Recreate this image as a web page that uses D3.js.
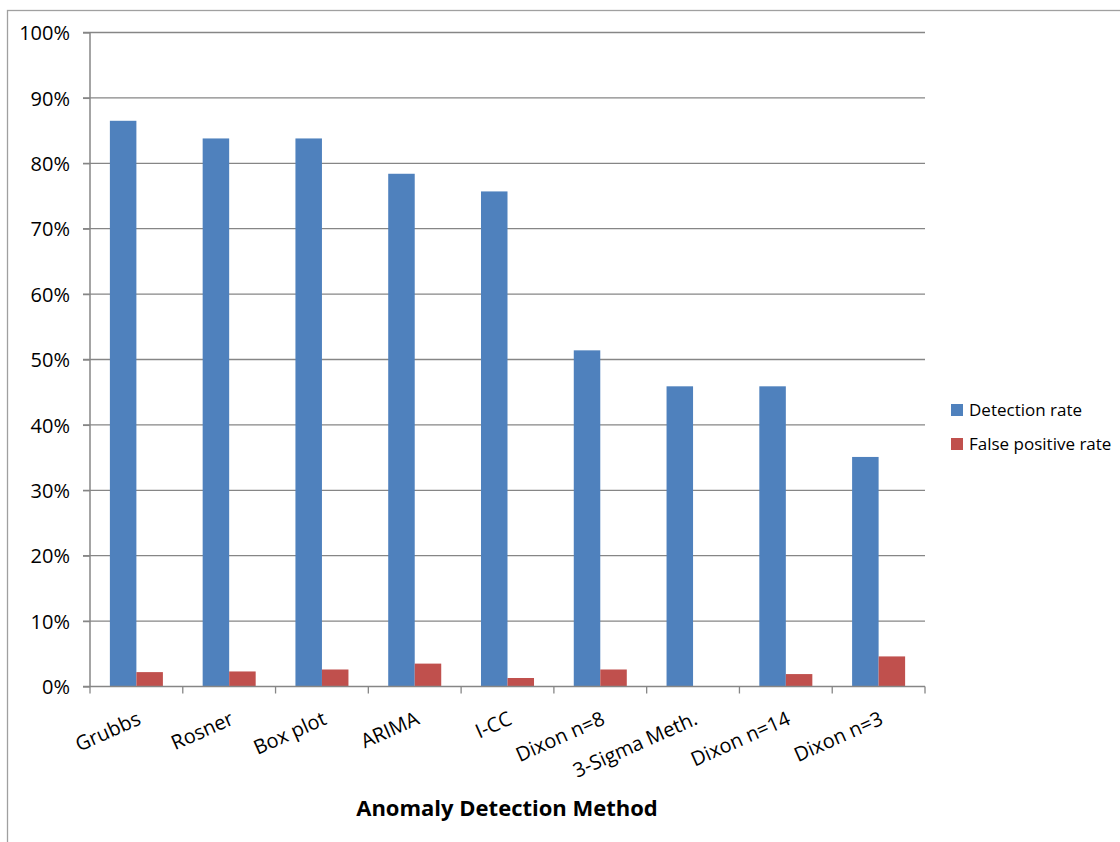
<!DOCTYPE html>
<html><head><meta charset="utf-8">
<script src="https://cdn.jsdelivr.net/npm/d3@7"></script>
<style>body{margin:0;background:#fff;}svg{display:block;font-family:"Open Sans","Liberation Sans",sans-serif;}</style>
</head><body>
<svg id="c" width="1120" height="842"></svg>
<script>
const categories = ["Grubbs","Rosner","Box plot","ARIMA","I-CC","Dixon n=8","3-Sigma Meth.","Dixon n=14","Dixon n=3"];
const seriesNames = ["Detection rate","False positive rate"];
const detectionRate = [0.865,0.838,0.838,0.784,0.757,0.514,0.459,0.459,0.351];
const falsePositiveRate = [0.022,0.023,0.026,0.035,0.013,0.026,0.0,0.019,0.046];
const yTicks = [0,0.1,0.2,0.3,0.4,0.5,0.6,0.7,0.8,0.9,1.0];
const colors = ["#4f81bd","#c0504d"];

(function(){
const svg = d3.select("#c");
const pLeft = 90, pRight = 925, pTop = 32.5, pBottom = 686.5;

// outer chart border
svg.append("rect").attr("x",7.5).attr("y",10.5).attr("width",1130).attr("height",860)
  .attr("fill","none").attr("stroke","#a0a0a0").attr("stroke-width",1.3);

const x = d3.scaleBand().domain(categories).range([pLeft,pRight]).paddingInner(0).paddingOuter(0);
const y = d3.scaleLinear().domain([0,1]).range([pBottom,pTop]);
const bw = x.bandwidth();
const barW = bw/3.5;
const xs = d3.scaleBand().domain(seriesNames).range([0.75*barW, 0.75*barW+2*barW]);

// gridlines
svg.append("g").selectAll("line").data(yTicks.filter(d=>d>0)).join("line")
  .attr("x1",pLeft-7).attr("x2",pRight).attr("y1",d=>y(d)).attr("y2",d=>y(d))
  .attr("stroke","#868686").attr("stroke-width",1.3);

// y axis
const yAxis = d3.axisLeft(y).tickValues(yTicks).tickFormat(d3.format(".0%")).tickSize(7).tickPadding(13);
const gy = svg.append("g").attr("transform",`translate(${pLeft},0)`).call(yAxis)
  .attr("font-family","'Open Sans','Liberation Sans',sans-serif");
gy.select(".domain").attr("stroke","#868686").attr("stroke-width",1.5).attr("d",`M0,${pTop}V${pBottom}`);
gy.selectAll(".tick line").attr("stroke","#868686").attr("stroke-width",1.3);
gy.selectAll(".tick text").attr("font-size",20).attr("fill","#000").attr("dy","0.36em");

// bars
const data = categories.map((c,i)=>({c, v:[detectionRate[i], falsePositiveRate[i]]}));
const g = svg.append("g");
seriesNames.forEach((s,si)=>{
  g.selectAll("rect.s"+si).data(data).join("rect").attr("class","s"+si)
    .attr("x",d=>x(d.c)+xs(s)).attr("width",xs.bandwidth())
    .attr("y",d=>y(d.v[si])).attr("height",d=>y(0)-y(d.v[si]))
    .attr("fill",colors[si]);
});

// x axis
const gx = svg.append("g").attr("transform",`translate(0,${pBottom})`);
gx.append("line").attr("x1",pLeft-7).attr("x2",pRight).attr("y1",0).attr("y2",0).attr("stroke","#868686").attr("stroke-width",1.5);
const bounds = categories.map(c=>x(c)).concat([pRight]);
gx.selectAll("line.t").data(bounds).join("line").attr("class","t")
  .attr("x1",d=>d).attr("x2",d=>d).attr("y1",0).attr("y2",7).attr("stroke","#868686").attr("stroke-width",1.3);
gx.selectAll("text").data(categories).join("text")
  .attr("transform",d=>`translate(${x(d)+bw/2},${24}) rotate(-24)`)
  .attr("text-anchor","end").attr("dy","0.72em").attr("font-size",20).attr("fill","#000").text(d=>d);

// axis title
svg.append("text").attr("x",507).attr("y",816).attr("text-anchor","middle")
  .attr("font-size",22).attr("font-weight","bold").attr("fill","#000").text("Anomaly Detection Method");

// legend
const lg = svg.append("g").attr("transform","translate(951,404)");
seriesNames.forEach((s,i)=>{
  lg.append("rect").attr("x",0).attr("y",i*34).attr("width",12).attr("height",12).attr("fill",colors[i]);
  lg.append("text").attr("x",18).attr("y",i*34+6).attr("dy","0.36em").attr("font-size",17).attr("fill","#000").text(s);
});
})();
</script>
</body></html>
